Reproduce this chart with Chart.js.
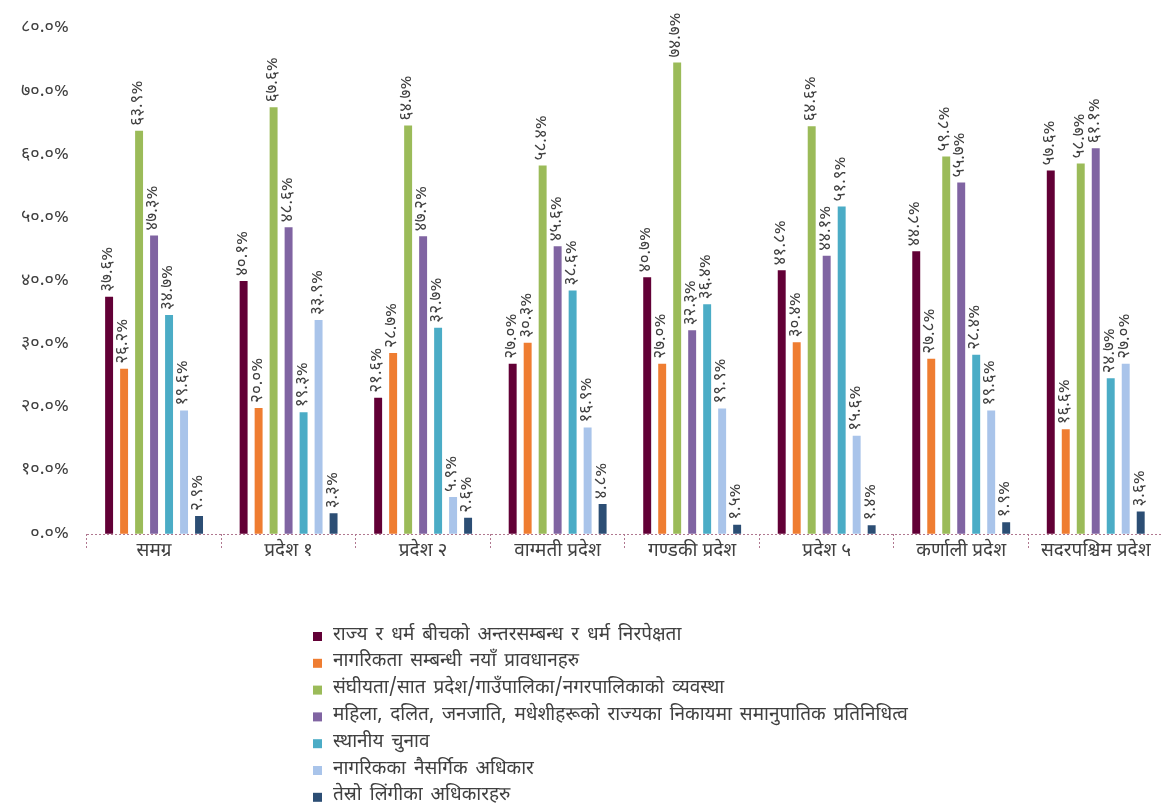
<!DOCTYPE html>
<html>
<head>
<meta charset="utf-8">
<script src="https://cdn.jsdelivr.net/npm/chart.js@4"></script>
<style>
  html, body { margin: 0; padding: 0; background: #fff; }
  #wrap { position: relative; width: 1163px; height: 808px; }
</style>
</head>
<body>
<div id="wrap"><canvas id="chart" width="1163" height="808"></canvas></div>
<script>
'use strict';

const categories = [
  'समग्र', 'प्रदेश १', 'प्रदेश २', 'वाग्मती प्रदेश',
  'गण्डकी प्रदेश', 'प्रदेश ५', 'कर्णाली प्रदेश', 'सुदूरपश्चिम प्रदेश'
];

const seriesNames = [
  'राज्य र धर्म बीचको अन्तरसम्बन्ध र धर्म निरपेक्षता',
  'नागरिकता सम्बन्धी नयाँ प्रावधानहरु',
  'संघीयता/सात प्रदेश/गाउँपालिका/नगरपालिकाको व्यवस्था',
  'महिला, दलित, जनजाति, मधेशीहरूको राज्यका निकायमा समानुपातिक प्रतिनिधित्व',
  'स्थानीय चुनाव',
  'नागरिकका नैसर्गिक अधिकार',
  'तेस्रो लिंगीका अधिकारहरु'
];

const religion = [37.6, 40.1, 21.6, 27.0, 40.7, 41.8, 44.8, 57.6];
const citizenship = [26.2, 20.0, 28.7, 30.3, 27.0, 30.4, 27.8, 16.6];
const federalism = [63.9, 67.6, 64.7, 58.4, 74.7, 64.6, 59.8, 58.7];
const inclusion = [47.3, 48.6, 47.2, 45.6, 32.3, 44.1, 55.7, 61.1];
const localElection = [34.7, 19.3, 32.7, 38.6, 36.4, 51.9, 28.4, 24.7];
const naturalRights = [19.6, 33.9, 5.9, 16.9, 19.9, 15.6, 19.6, 27.0];
const thirdGender = [2.9, 3.3, 2.6, 4.8, 1.5, 1.4, 1.9, 3.6];

const seriesValues = [religion, citizenship, federalism, inclusion, localElection, naturalRights, thirdGender];
const seriesColors = ['#620036', '#ef7d31', '#9bbb59', '#8064a2', '#4bacc6', '#a9c4ea', '#2c4e74'];

const yTicks = [0, 10, 20, 30, 40, 50, 60, 70, 80];

const FONT = '"Noto Sans Devanagari", "Lohit Devanagari", "Noto Sans", "DejaVu Sans", sans-serif';
const TEXT = '#404040';

const nepDigits = '०१२३४५६७८९';
const toNep = (s) => String(s).replace(/[0-9]/g, d => nepDigits[+d]);
const pct = (v) => toNep(v.toFixed(1)) + '%';

// vertical value labels above every bar
const barLabels = {
  id: 'barLabels',
  afterDatasetsDraw(chart) {
    const ctx = chart.ctx;
    ctx.save();
    ctx.font = '17px ' + FONT;
    ctx.fillStyle = TEXT;
    ctx.textAlign = 'left';
    ctx.textBaseline = 'middle';
    chart.data.datasets.forEach((ds, i) => {
      chart.getDatasetMeta(i).data.forEach((bar, j) => {
        ctx.save();
        ctx.translate(bar.x, bar.y - 5);
        ctx.rotate(-Math.PI / 2);
        ctx.fillText(pct(ds.data[j]), 0, 0);
        ctx.restore();
      });
    });
    ctx.restore();
  }
};

// one legend entry per row under the chart
const columnLegend = {
  id: 'columnLegend',
  afterDraw(chart) {
    const ctx = chart.ctx;
    const left = 313, top = 636, step = 26.8;
    ctx.save();
    ctx.font = '19px ' + FONT;
    ctx.wordSpacing = '3px';
    ctx.textBaseline = 'middle';
    ctx.textAlign = 'left';
    chart.data.datasets.forEach((ds, i) => {
      const y = top + i * step;
      ctx.fillStyle = ds.backgroundColor;
      ctx.fillRect(left, y - 4, 9, 9);
      ctx.fillStyle = TEXT;
      ctx.fillText(ds.label, left + 20, y);
    });
    ctx.restore();
  }
};

const datasets = seriesNames.map((name, i) => ({
  label: name,
  data: seriesValues[i],
  backgroundColor: seriesColors[i],
  borderWidth: 0,
  categoryPercentage: 0.78,
  barPercentage: 0.53
}));

new Chart(document.getElementById('chart'), {
  type: 'bar',
  data: { labels: categories, datasets: datasets },
  options: {
    responsive: false,
    animation: false,
    layout: { padding: { top: 29, right: 0, left: 3, bottom: 252 } },
    plugins: {
      legend: { display: false },
      tooltip: { enabled: false }
    },
    scales: {
      x: {
        offset: true,
        grid: {
          offset: true,
          drawOnChartArea: false,
          drawTicks: true,
          tickLength: 15,
          tickColor: '#b07890',
          tickBorderDash: [2, 2],
          tickWidth: 1
        },
        border: { display: false },
        ticks: {
          padding: -8,
          color: TEXT,
          font: { family: FONT, size: 19 },
          maxRotation: 0,
          autoSkip: false
        }
      },
      y: {
        min: 0,
        max: 80,
        afterBuildTicks(scale) {
          scale.ticks = yTicks.map(v => ({ value: v }));
        },
        grid: {
          drawTicks: false,
          color: (c) => (c.tick && c.tick.value === 0 ? '#b07890' : 'rgba(0,0,0,0)'),
          lineWidth: 1
        },
        border: { display: false, dash: [2, 2] },
        ticks: {
          padding: 18,
          color: TEXT,
          font: { family: FONT, size: 18 },
          callback: (v) => pct(v)
        }
      }
    }
  },
  plugins: [barLabels, columnLegend]
});
</script>
</body>
</html>
